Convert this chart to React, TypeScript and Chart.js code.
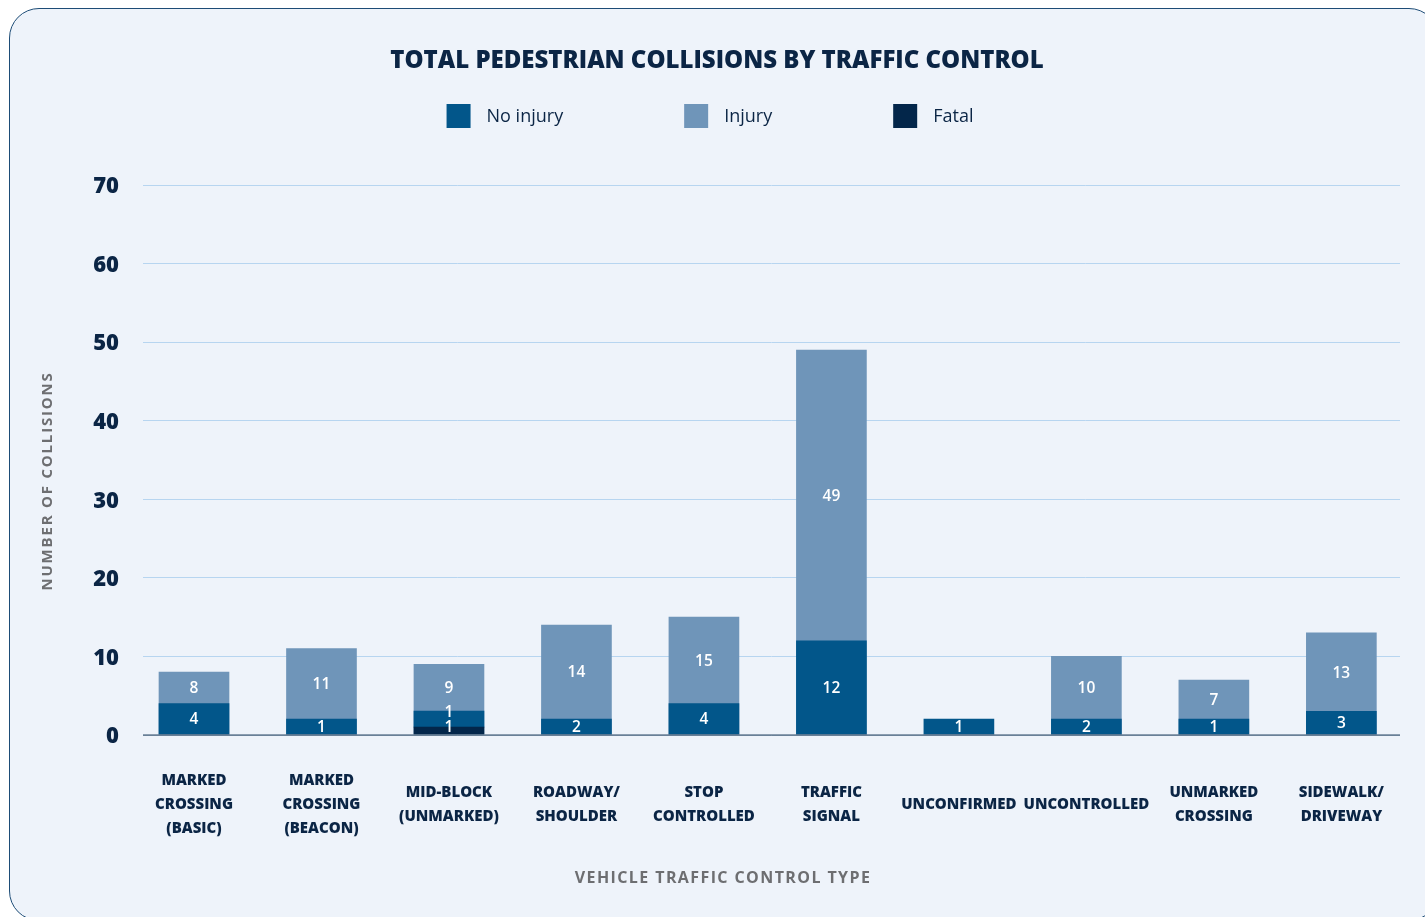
import React, { useEffect, useRef } from 'react';
import { Chart, registerables } from 'chart.js';

Chart.register(...registerables);

// ---- data ----
const categories: string[][] = [
  ['MARKED', 'CROSSING', '(BASIC)'],
  ['MARKED', 'CROSSING', '(BEACON)'],
  ['MID-BLOCK', '(UNMARKED)'],
  ['ROADWAY/', 'SHOULDER'],
  ['STOP', 'CONTROLLED'],
  ['TRAFFIC', 'SIGNAL'],
  ['UNCONFIRMED'],
  ['UNCONTROLLED'],
  ['UNMARKED', 'CROSSING'],
  ['SIDEWALK/', 'DRIVEWAY'],
];
const noInjury = [4, 1, 1, 2, 4, 12, 1, 2, 1, 3];
const injury = [8, 11, 9, 14, 15, 49, 0, 10, 7, 13];
const fatal = [0, 0, 1, 0, 0, 0, 0, 0, 0, 0];
const seriesNames = ['No injury', 'Injury', 'Fatal'];
const yTickValues = [0, 10, 20, 30, 40, 50, 60, 70];
const chartTitle = 'TOTAL PEDESTRIAN COLLISIONS BY TRAFFIC CONTROL';
const xAxisTitle = 'VEHICLE TRAFFIC CONTROL TYPE';
const yAxisTitle = 'NUMBER OF COLLISIONS';

// ---- styles ----
const FONT = '"Open Sans", "Noto Sans", sans-serif';
const NAVY = '#0b2545';
const GREY = '#6d6e71';
const C_NO = '#02568a';
const C_INJ = '#6f95b9';
const C_FATAL = '#03264a';

const decorPlugin = {
  id: 'decor',
  afterDatasetsDraw(chart: any) {
    const ctx: CanvasRenderingContext2D = chart.ctx;
    const { left, right } = chart.chartArea;
    const y0 = chart.scales.y.getPixelForValue(0);
    ctx.save();
    ctx.strokeStyle = '#6a8097';
    ctx.lineWidth = 1.5;
    ctx.beginPath();
    ctx.moveTo(left, y0);
    ctx.lineTo(right, y0);
    ctx.stroke();

    const mNo = chart.getDatasetMeta(0);
    const mInj = chart.getDatasetMeta(1);
    const mFat = chart.getDatasetMeta(2);
    ctx.fillStyle = '#ffffff';
    ctx.font = `600 15.5px ${FONT}`;
    ctx.textAlign = 'center';
    ctx.textBaseline = 'middle';
    const minGap = 15;
    categories.forEach((_, i) => {
      const no: any = mNo.data[i];
      const inj: any = mInj.data[i];
      const fat: any = mFat.data[i];
      let top = y0;
      let lastLabelY = Infinity;
      if (fatal[i] > 0) {
        const ly = Math.min((fat.y + fat.base) / 2 + 1, y0 - 7);
        ctx.fillText(String(fatal[i]), fat.x, ly);
        lastLabelY = ly;
        top = Math.min(top, fat.y);
      }
      if (noInjury[i] > 0) {
        const ly = Math.min((no.y + no.base) / 2 + 1, lastLabelY - minGap);
        ctx.fillText(String(noInjury[i]), no.x, ly);
        top = Math.min(top, no.y);
      }
      if (injury[i] > 0) {
        ctx.fillText(String(injury[i]), inj.x, (inj.y + top) / 2 + 1);
      }
    });
    ctx.restore();
  },
  afterDraw(chart: any) {
    const ctx: CanvasRenderingContext2D = chart.ctx;
    ctx.save();
    // title
    ctx.fillStyle = NAVY;
    ctx.font = `800 24px ${FONT}`;
    ctx.textAlign = 'center';
    ctx.textBaseline = 'middle';
    ctx.fillText(chartTitle, 717, 61);

    // legend
    const colors = chart.data.datasets.map((d: any) => d.backgroundColor);
    ctx.font = `18px ${FONT}`;
    const box = 24;
    const gapText = 16;
    const gapItem = 121;
    const widths = seriesNames.map((n) => box + gapText + ctx.measureText(n).width);
    const total = widths.reduce((a, b) => a + b, 0) + gapItem * (widths.length - 1);
    let x = 710 - total / 2;
    const ly = 116;
    ctx.textAlign = 'left';
    seriesNames.forEach((n, i) => {
      ctx.fillStyle = colors[i];
      ctx.fillRect(x, ly - box / 2, box, box);
      ctx.fillStyle = NAVY;
      ctx.fillText(n, x + box + gapText, ly + 1);
      x += widths[i] + gapItem;
    });

    // axis titles
    ctx.fillStyle = GREY;
    ctx.font = `bold 16px ${FONT}`;
    ctx.textAlign = 'center';
    (ctx as any).letterSpacing = '1.4px';
    ctx.fillText(xAxisTitle, 723, 878);
    ctx.font = `bold 15px ${FONT}`;
    (ctx as any).letterSpacing = '1.8px';
    ctx.translate(48, 481);
    ctx.rotate(-Math.PI / 2);
    ctx.fillText(yAxisTitle, 0, 0);
    ctx.restore();
  },
};

export default function App() {
  const ref = useRef<HTMLCanvasElement>(null);

  useEffect(() => {
    const canvas = ref.current;
    if (!canvas) return;
    const toPts = (arr: number[]) => arr.map((v, i) => ({ x: i, y: v }));
    const chart = new Chart(canvas, {
      type: 'bar',
      data: {
        datasets: [
          {
            label: seriesNames[0],
            data: toPts(noInjury) as any,
            backgroundColor: C_NO,
            stack: 'a',
            order: 2,
            minBarLength: 16,
            barThickness: 70,
          },
          {
            label: seriesNames[1],
            data: toPts(injury) as any,
            backgroundColor: C_INJ,
            stack: 'b',
            order: 3,
            grouped: false,
            barThickness: 70,
          },
          {
            label: seriesNames[2],
            data: toPts(fatal) as any,
            backgroundColor: C_FATAL,
            stack: 'a',
            order: 1,
            barThickness: 70,
          },
        ] as any,
      },
      options: {
        responsive: false,
        animation: false,
        devicePixelRatio: 1,
        layout: { padding: { top: 185, left: 0, right: 25, bottom: 0 } },
        plugins: {
          legend: { display: false },
          title: { display: false },
          tooltip: { enabled: false },
        },
        scales: {
          x: {
            type: 'linear',
            offset: false,
            min: -0.4,
            max: 9.46,
            grid: { display: false, drawTicks: false, offset: false },
            border: { display: false },
            afterBuildTicks: (scale: any) => {
              scale.ticks = categories.map((_, i) => ({ value: i }));
            },
            afterFit: (scale: any) => {
              scale.height = 182;
              scale.paddingLeft = 0;
              scale.paddingRight = 0;
            },
            ticks: {
              autoSkip: false,
              maxRotation: 0,
              minRotation: 0,
              crossAlign: 'center',
              padding: 46,
              color: NAVY,
              font: { family: FONT, size: 15, weight: '800', lineHeight: 1.6 },
              callback: (v: any) => categories[Number(v)] ?? '',
            },
          },
          y: {
            stacked: true,
            min: 0,
            max: 70,
            afterBuildTicks: (scale: any) => {
              scale.ticks = yTickValues.map((v) => ({ value: v }));
            },
            afterFit: (scale: any) => {
              scale.width = 143;
            },
            border: { display: false },
            grid: {
              color: (c: any) => (c.tick && c.tick.value === 0 ? '#6a8097' : '#b7d5f0'),
              lineWidth: 1,
              drawTicks: false,
            },
            ticks: {
              padding: 24,
              labelOffset: 2,
              color: NAVY,
              font: { family: FONT, size: 22, weight: '800' },
            },
          },
        },
      } as any,
      plugins: [decorPlugin],
    });
    return () => chart.destroy();
  }, []);

  return (
    <div>
      <div
        style={{
          position: 'fixed',
          left: 9,
          top: 8,
          width: 1430,
          height: 913,
          border: '1.5px solid #1d4c76',
          borderRadius: 30,
          background: '#eef3fa',
          boxSizing: 'border-box',
        }}
      />
      <canvas
        ref={ref}
        width={1425}
        height={917}
        style={{ position: 'fixed', left: 0, top: 0 }}
      />
    </div>
  );
}
